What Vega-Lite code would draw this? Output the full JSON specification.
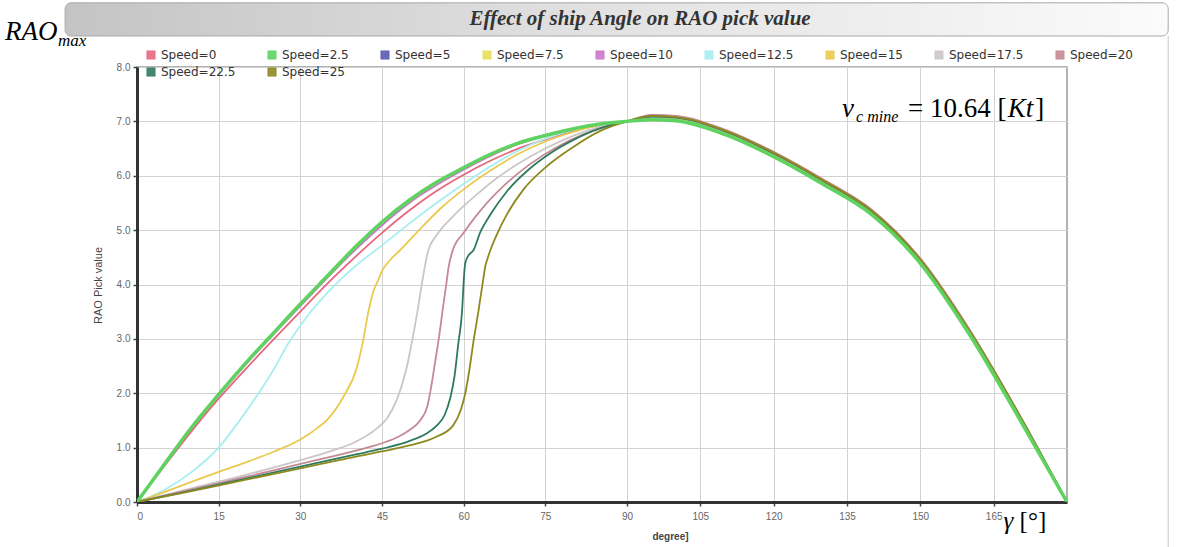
{
  "$schema": "https://vega.github.io/schema/vega-lite/v6.json",
  "width": 930,
  "height": 435,
  "autosize": "none",
  "padding": {"left": 137, "top": 67, "right": 110, "bottom": 45},
  "background": "white",
  "config": {
    "view": {"stroke": "#9a9a9a", "strokeWidth": 1.5},
    "font": "Liberation Sans"
  },
  "datasets": {
    "one": [{}],
    "curves": [
      {"s": "Speed=5", "a": 0, "v": 0}, {"s": "Speed=5", "a": 10, "v": 1.37}, {"s": "Speed=5", "a": 20, "v": 2.56}, {"s": "Speed=5", "a": 30, "v": 3.63}, {"s": "Speed=5", "a": 40, "v": 4.67}, {"s": "Speed=5", "a": 50, "v": 5.54}, {"s": "Speed=5", "a": 60, "v": 6.14}, {"s": "Speed=5", "a": 70, "v": 6.6}, {"s": "Speed=5", "a": 80, "v": 6.86}, {"s": "Speed=5", "a": 90, "v": 7.0},
      {"s": "Speed=5", "a": 95, "v": 7.04}, {"s": "Speed=5", "a": 100, "v": 7.02}, {"s": "Speed=5", "a": 110, "v": 6.77}, {"s": "Speed=5", "a": 120, "v": 6.36}, {"s": "Speed=5", "a": 130, "v": 5.86}, {"s": "Speed=5", "a": 140, "v": 5.3}, {"s": "Speed=5", "a": 150, "v": 4.4}, {"s": "Speed=5", "a": 160, "v": 3.1}, {"s": "Speed=5", "a": 170, "v": 1.58}, {"s": "Speed=5", "a": 180, "v": 0},

      {"s": "Speed=7.5", "a": 0, "v": 0}, {"s": "Speed=7.5", "a": 10, "v": 1.36}, {"s": "Speed=7.5", "a": 20, "v": 2.55}, {"s": "Speed=7.5", "a": 30, "v": 3.62}, {"s": "Speed=7.5", "a": 40, "v": 4.66}, {"s": "Speed=7.5", "a": 50, "v": 5.53}, {"s": "Speed=7.5", "a": 60, "v": 6.13}, {"s": "Speed=7.5", "a": 70, "v": 6.59}, {"s": "Speed=7.5", "a": 80, "v": 6.86}, {"s": "Speed=7.5", "a": 90, "v": 7.0},
      {"s": "Speed=7.5", "a": 95, "v": 7.05}, {"s": "Speed=7.5", "a": 100, "v": 7.03}, {"s": "Speed=7.5", "a": 110, "v": 6.78}, {"s": "Speed=7.5", "a": 120, "v": 6.37}, {"s": "Speed=7.5", "a": 130, "v": 5.87}, {"s": "Speed=7.5", "a": 140, "v": 5.31}, {"s": "Speed=7.5", "a": 150, "v": 4.41}, {"s": "Speed=7.5", "a": 160, "v": 3.1}, {"s": "Speed=7.5", "a": 170, "v": 1.58}, {"s": "Speed=7.5", "a": 180, "v": 0},

      {"s": "Speed=10", "a": 0, "v": 0}, {"s": "Speed=10", "a": 10, "v": 1.35}, {"s": "Speed=10", "a": 20, "v": 2.53}, {"s": "Speed=10", "a": 30, "v": 3.6}, {"s": "Speed=10", "a": 40, "v": 4.63}, {"s": "Speed=10", "a": 50, "v": 5.5}, {"s": "Speed=10", "a": 60, "v": 6.11}, {"s": "Speed=10", "a": 70, "v": 6.58}, {"s": "Speed=10", "a": 80, "v": 6.85}, {"s": "Speed=10", "a": 90, "v": 7.0},
      {"s": "Speed=10", "a": 95, "v": 7.05}, {"s": "Speed=10", "a": 100, "v": 7.03}, {"s": "Speed=10", "a": 110, "v": 6.78}, {"s": "Speed=10", "a": 120, "v": 6.37}, {"s": "Speed=10", "a": 130, "v": 5.87}, {"s": "Speed=10", "a": 140, "v": 5.31}, {"s": "Speed=10", "a": 150, "v": 4.41}, {"s": "Speed=10", "a": 160, "v": 3.11}, {"s": "Speed=10", "a": 170, "v": 1.59}, {"s": "Speed=10", "a": 180, "v": 0},

      {"s": "Speed=0", "a": 0, "v": 0}, {"s": "Speed=0", "a": 5, "v": 0.66}, {"s": "Speed=0", "a": 10, "v": 1.3}, {"s": "Speed=0", "a": 15, "v": 1.9}, {"s": "Speed=0", "a": 20, "v": 2.45}, {"s": "Speed=0", "a": 25, "v": 2.98}, {"s": "Speed=0", "a": 30, "v": 3.5}, {"s": "Speed=0", "a": 35, "v": 4.02}, {"s": "Speed=0", "a": 40, "v": 4.5}, {"s": "Speed=0", "a": 45, "v": 4.95}, {"s": "Speed=0", "a": 50, "v": 5.36}, {"s": "Speed=0", "a": 55, "v": 5.72}, {"s": "Speed=0", "a": 60, "v": 6.02}, {"s": "Speed=0", "a": 65, "v": 6.28}, {"s": "Speed=0", "a": 70, "v": 6.5}, {"s": "Speed=0", "a": 75, "v": 6.67}, {"s": "Speed=0", "a": 80, "v": 6.82}, {"s": "Speed=0", "a": 85, "v": 6.93}, {"s": "Speed=0", "a": 90, "v": 7.0},
      {"s": "Speed=0", "a": 95, "v": 7.05}, {"s": "Speed=0", "a": 100, "v": 7.03}, {"s": "Speed=0", "a": 110, "v": 6.78}, {"s": "Speed=0", "a": 120, "v": 6.37}, {"s": "Speed=0", "a": 130, "v": 5.87}, {"s": "Speed=0", "a": 140, "v": 5.31}, {"s": "Speed=0", "a": 150, "v": 4.41}, {"s": "Speed=0", "a": 160, "v": 3.11}, {"s": "Speed=0", "a": 170, "v": 1.59}, {"s": "Speed=0", "a": 180, "v": 0},

      {"s": "Speed=12.5", "a": 0, "v": 0}, {"s": "Speed=12.5", "a": 5, "v": 0.22}, {"s": "Speed=12.5", "a": 10, "v": 0.55}, {"s": "Speed=12.5", "a": 15, "v": 1.0}, {"s": "Speed=12.5", "a": 19, "v": 1.52}, {"s": "Speed=12.5", "a": 22, "v": 1.95}, {"s": "Speed=12.5", "a": 25, "v": 2.42}, {"s": "Speed=12.5", "a": 28, "v": 2.95}, {"s": "Speed=12.5", "a": 31, "v": 3.38}, {"s": "Speed=12.5", "a": 35, "v": 3.85}, {"s": "Speed=12.5", "a": 40, "v": 4.33}, {"s": "Speed=12.5", "a": 45, "v": 4.72}, {"s": "Speed=12.5", "a": 50, "v": 5.12}, {"s": "Speed=12.5", "a": 55, "v": 5.5}, {"s": "Speed=12.5", "a": 60, "v": 5.85}, {"s": "Speed=12.5", "a": 65, "v": 6.18}, {"s": "Speed=12.5", "a": 70, "v": 6.46}, {"s": "Speed=12.5", "a": 75, "v": 6.68}, {"s": "Speed=12.5", "a": 80, "v": 6.84}, {"s": "Speed=12.5", "a": 85, "v": 6.95}, {"s": "Speed=12.5", "a": 90, "v": 7.0},
      {"s": "Speed=12.5", "a": 95, "v": 7.06}, {"s": "Speed=12.5", "a": 100, "v": 7.04}, {"s": "Speed=12.5", "a": 110, "v": 6.79}, {"s": "Speed=12.5", "a": 120, "v": 6.38}, {"s": "Speed=12.5", "a": 130, "v": 5.88}, {"s": "Speed=12.5", "a": 140, "v": 5.32}, {"s": "Speed=12.5", "a": 150, "v": 4.42}, {"s": "Speed=12.5", "a": 160, "v": 3.12}, {"s": "Speed=12.5", "a": 170, "v": 1.6}, {"s": "Speed=12.5", "a": 180, "v": 0},

      {"s": "Speed=15", "a": 0, "v": 0}, {"s": "Speed=15", "a": 5, "v": 0.18}, {"s": "Speed=15", "a": 10, "v": 0.37}, {"s": "Speed=15", "a": 16, "v": 0.59}, {"s": "Speed=15", "a": 20, "v": 0.73}, {"s": "Speed=15", "a": 25, "v": 0.92}, {"s": "Speed=15", "a": 30, "v": 1.15}, {"s": "Speed=15", "a": 33, "v": 1.35}, {"s": "Speed=15", "a": 35, "v": 1.52}, {"s": "Speed=15", "a": 38, "v": 1.95}, {"s": "Speed=15", "a": 40.4, "v": 2.48}, {"s": "Speed=15", "a": 41.5, "v": 2.95}, {"s": "Speed=15", "a": 42.5, "v": 3.5}, {"s": "Speed=15", "a": 43.5, "v": 3.9}, {"s": "Speed=15", "a": 44.3, "v": 4.08}, {"s": "Speed=15", "a": 45, "v": 4.25}, {"s": "Speed=15", "a": 46.5, "v": 4.45}, {"s": "Speed=15", "a": 48.3, "v": 4.63}, {"s": "Speed=15", "a": 52, "v": 5.02}, {"s": "Speed=15", "a": 56, "v": 5.42}, {"s": "Speed=15", "a": 60, "v": 5.75}, {"s": "Speed=15", "a": 65, "v": 6.1}, {"s": "Speed=15", "a": 70, "v": 6.4}, {"s": "Speed=15", "a": 75, "v": 6.63}, {"s": "Speed=15", "a": 80, "v": 6.8}, {"s": "Speed=15", "a": 85, "v": 6.93}, {"s": "Speed=15", "a": 90, "v": 7.0},
      {"s": "Speed=15", "a": 95, "v": 7.07}, {"s": "Speed=15", "a": 100, "v": 7.05}, {"s": "Speed=15", "a": 110, "v": 6.8}, {"s": "Speed=15", "a": 120, "v": 6.39}, {"s": "Speed=15", "a": 130, "v": 5.89}, {"s": "Speed=15", "a": 140, "v": 5.33}, {"s": "Speed=15", "a": 150, "v": 4.43}, {"s": "Speed=15", "a": 160, "v": 3.13}, {"s": "Speed=15", "a": 170, "v": 1.61}, {"s": "Speed=15", "a": 180, "v": 0},

      {"s": "Speed=17.5", "a": 0, "v": 0}, {"s": "Speed=17.5", "a": 10, "v": 0.25}, {"s": "Speed=17.5", "a": 20, "v": 0.5}, {"s": "Speed=17.5", "a": 30, "v": 0.77}, {"s": "Speed=17.5", "a": 36, "v": 0.95}, {"s": "Speed=17.5", "a": 40, "v": 1.1}, {"s": "Speed=17.5", "a": 44, "v": 1.35}, {"s": "Speed=17.5", "a": 46, "v": 1.55}, {"s": "Speed=17.5", "a": 47.8, "v": 1.9}, {"s": "Speed=17.5", "a": 48.8, "v": 2.2}, {"s": "Speed=17.5", "a": 49.6, "v": 2.5}, {"s": "Speed=17.5", "a": 50.6, "v": 3.0}, {"s": "Speed=17.5", "a": 51.5, "v": 3.5}, {"s": "Speed=17.5", "a": 52.3, "v": 4.0}, {"s": "Speed=17.5", "a": 53.5, "v": 4.63}, {"s": "Speed=17.5", "a": 55, "v": 4.9}, {"s": "Speed=17.5", "a": 58, "v": 5.25}, {"s": "Speed=17.5", "a": 62, "v": 5.62}, {"s": "Speed=17.5", "a": 66, "v": 5.95}, {"s": "Speed=17.5", "a": 70, "v": 6.22}, {"s": "Speed=17.5", "a": 75, "v": 6.5}, {"s": "Speed=17.5", "a": 80, "v": 6.73}, {"s": "Speed=17.5", "a": 85, "v": 6.9}, {"s": "Speed=17.5", "a": 90, "v": 7.0},
      {"s": "Speed=17.5", "a": 95, "v": 7.08}, {"s": "Speed=17.5", "a": 100, "v": 7.06}, {"s": "Speed=17.5", "a": 110, "v": 6.81}, {"s": "Speed=17.5", "a": 120, "v": 6.4}, {"s": "Speed=17.5", "a": 130, "v": 5.9}, {"s": "Speed=17.5", "a": 140, "v": 5.34}, {"s": "Speed=17.5", "a": 150, "v": 4.44}, {"s": "Speed=17.5", "a": 160, "v": 3.14}, {"s": "Speed=17.5", "a": 170, "v": 1.62}, {"s": "Speed=17.5", "a": 180, "v": 0},

      {"s": "Speed=20", "a": 0, "v": 0}, {"s": "Speed=20", "a": 10, "v": 0.23}, {"s": "Speed=20", "a": 20, "v": 0.46}, {"s": "Speed=20", "a": 30, "v": 0.7}, {"s": "Speed=20", "a": 40, "v": 0.94}, {"s": "Speed=20", "a": 45, "v": 1.08}, {"s": "Speed=20", "a": 48, "v": 1.2}, {"s": "Speed=20", "a": 50, "v": 1.32}, {"s": "Speed=20", "a": 52, "v": 1.5}, {"s": "Speed=20", "a": 53.3, "v": 1.75}, {"s": "Speed=20", "a": 54, "v": 2.1}, {"s": "Speed=20", "a": 54.8, "v": 2.6}, {"s": "Speed=20", "a": 55.5, "v": 3.05}, {"s": "Speed=20", "a": 56.1, "v": 3.5}, {"s": "Speed=20", "a": 56.8, "v": 4.0}, {"s": "Speed=20", "a": 57.2, "v": 4.3}, {"s": "Speed=20", "a": 58, "v": 4.63}, {"s": "Speed=20", "a": 60, "v": 4.95}, {"s": "Speed=20", "a": 63, "v": 5.35}, {"s": "Speed=20", "a": 67, "v": 5.78}, {"s": "Speed=20", "a": 72, "v": 6.2}, {"s": "Speed=20", "a": 77, "v": 6.52}, {"s": "Speed=20", "a": 82, "v": 6.76}, {"s": "Speed=20", "a": 86, "v": 6.9}, {"s": "Speed=20", "a": 90, "v": 7.0},
      {"s": "Speed=20", "a": 95, "v": 7.12}, {"s": "Speed=20", "a": 100, "v": 7.1}, {"s": "Speed=20", "a": 110, "v": 6.85}, {"s": "Speed=20", "a": 120, "v": 6.44}, {"s": "Speed=20", "a": 130, "v": 5.94}, {"s": "Speed=20", "a": 140, "v": 5.38}, {"s": "Speed=20", "a": 150, "v": 4.48}, {"s": "Speed=20", "a": 160, "v": 3.18}, {"s": "Speed=20", "a": 170, "v": 1.65}, {"s": "Speed=20", "a": 180, "v": 0},

      {"s": "Speed=22.5", "a": 0, "v": 0}, {"s": "Speed=22.5", "a": 10, "v": 0.21}, {"s": "Speed=22.5", "a": 20, "v": 0.43}, {"s": "Speed=22.5", "a": 30, "v": 0.65}, {"s": "Speed=22.5", "a": 40, "v": 0.87}, {"s": "Speed=22.5", "a": 45, "v": 0.98}, {"s": "Speed=22.5", "a": 50, "v": 1.12}, {"s": "Speed=22.5", "a": 53, "v": 1.25}, {"s": "Speed=22.5", "a": 55, "v": 1.4}, {"s": "Speed=22.5", "a": 56.5, "v": 1.6}, {"s": "Speed=22.5", "a": 57.5, "v": 1.9}, {"s": "Speed=22.5", "a": 58.3, "v": 2.3}, {"s": "Speed=22.5", "a": 59, "v": 2.9}, {"s": "Speed=22.5", "a": 59.7, "v": 3.5}, {"s": "Speed=22.5", "a": 60.1, "v": 4.2}, {"s": "Speed=22.5", "a": 60.3, "v": 4.4}, {"s": "Speed=22.5", "a": 61, "v": 4.55}, {"s": "Speed=22.5", "a": 61.8, "v": 4.63}, {"s": "Speed=22.5", "a": 63, "v": 4.95}, {"s": "Speed=22.5", "a": 65, "v": 5.3}, {"s": "Speed=22.5", "a": 68, "v": 5.72}, {"s": "Speed=22.5", "a": 72, "v": 6.12}, {"s": "Speed=22.5", "a": 76, "v": 6.42}, {"s": "Speed=22.5", "a": 80, "v": 6.65}, {"s": "Speed=22.5", "a": 85, "v": 6.87}, {"s": "Speed=22.5", "a": 90, "v": 7.0},
      {"s": "Speed=22.5", "a": 95, "v": 7.09}, {"s": "Speed=22.5", "a": 100, "v": 7.07}, {"s": "Speed=22.5", "a": 110, "v": 6.82}, {"s": "Speed=22.5", "a": 120, "v": 6.41}, {"s": "Speed=22.5", "a": 130, "v": 5.91}, {"s": "Speed=22.5", "a": 140, "v": 5.35}, {"s": "Speed=22.5", "a": 150, "v": 4.45}, {"s": "Speed=22.5", "a": 160, "v": 3.15}, {"s": "Speed=22.5", "a": 170, "v": 1.63}, {"s": "Speed=22.5", "a": 180, "v": 0},

      {"s": "Speed=25", "a": 0, "v": 0}, {"s": "Speed=25", "a": 10, "v": 0.2}, {"s": "Speed=25", "a": 20, "v": 0.41}, {"s": "Speed=25", "a": 30, "v": 0.62}, {"s": "Speed=25", "a": 40, "v": 0.83}, {"s": "Speed=25", "a": 45, "v": 0.93}, {"s": "Speed=25", "a": 50, "v": 1.04}, {"s": "Speed=25", "a": 55, "v": 1.2}, {"s": "Speed=25", "a": 58, "v": 1.4}, {"s": "Speed=25", "a": 59.5, "v": 1.7}, {"s": "Speed=25", "a": 60.3, "v": 2.0}, {"s": "Speed=25", "a": 61, "v": 2.4}, {"s": "Speed=25", "a": 61.8, "v": 2.95}, {"s": "Speed=25", "a": 62.7, "v": 3.5}, {"s": "Speed=25", "a": 63.6, "v": 4.1}, {"s": "Speed=25", "a": 64, "v": 4.35}, {"s": "Speed=25", "a": 64.3, "v": 4.45}, {"s": "Speed=25", "a": 64.9, "v": 4.63}, {"s": "Speed=25", "a": 66, "v": 4.9}, {"s": "Speed=25", "a": 68, "v": 5.3}, {"s": "Speed=25", "a": 71, "v": 5.75}, {"s": "Speed=25", "a": 75, "v": 6.15}, {"s": "Speed=25", "a": 80, "v": 6.52}, {"s": "Speed=25", "a": 85, "v": 6.82}, {"s": "Speed=25", "a": 90, "v": 7.0},
      {"s": "Speed=25", "a": 95, "v": 7.1}, {"s": "Speed=25", "a": 100, "v": 7.08}, {"s": "Speed=25", "a": 110, "v": 6.83}, {"s": "Speed=25", "a": 120, "v": 6.42}, {"s": "Speed=25", "a": 130, "v": 5.92}, {"s": "Speed=25", "a": 140, "v": 5.36}, {"s": "Speed=25", "a": 150, "v": 4.46}, {"s": "Speed=25", "a": 160, "v": 3.16}, {"s": "Speed=25", "a": 170, "v": 1.64}, {"s": "Speed=25", "a": 180, "v": 0},

      {"s": "Speed=2.5", "a": 0, "v": 0}, {"s": "Speed=2.5", "a": 5, "v": 0.69}, {"s": "Speed=2.5", "a": 10, "v": 1.37}, {"s": "Speed=2.5", "a": 15, "v": 1.98}, {"s": "Speed=2.5", "a": 20, "v": 2.56}, {"s": "Speed=2.5", "a": 25, "v": 3.1}, {"s": "Speed=2.5", "a": 30, "v": 3.64}, {"s": "Speed=2.5", "a": 35, "v": 4.16}, {"s": "Speed=2.5", "a": 40, "v": 4.68}, {"s": "Speed=2.5", "a": 45, "v": 5.15}, {"s": "Speed=2.5", "a": 50, "v": 5.55}, {"s": "Speed=2.5", "a": 55, "v": 5.88}, {"s": "Speed=2.5", "a": 60, "v": 6.15}, {"s": "Speed=2.5", "a": 65, "v": 6.4}, {"s": "Speed=2.5", "a": 70, "v": 6.6}, {"s": "Speed=2.5", "a": 75, "v": 6.74}, {"s": "Speed=2.5", "a": 80, "v": 6.86}, {"s": "Speed=2.5", "a": 85, "v": 6.95}, {"s": "Speed=2.5", "a": 90, "v": 7.0},
      {"s": "Speed=2.5", "a": 95, "v": 7.03}, {"s": "Speed=2.5", "a": 100, "v": 7.01}, {"s": "Speed=2.5", "a": 110, "v": 6.76}, {"s": "Speed=2.5", "a": 120, "v": 6.35}, {"s": "Speed=2.5", "a": 130, "v": 5.85}, {"s": "Speed=2.5", "a": 140, "v": 5.29}, {"s": "Speed=2.5", "a": 150, "v": 4.39}, {"s": "Speed=2.5", "a": 160, "v": 3.09}, {"s": "Speed=2.5", "a": 170, "v": 1.57}, {"s": "Speed=2.5", "a": 180, "v": 0}
    ]
  },
  "layer": [
    {
      "data": {"name": "one"},
      "mark": {"type": "rule", "clip": false, "color": "#c8c8c8", "strokeWidth": 1},
      "encoding": {"x": {"datum": 200.7}, "y": {"datum": 8.57}, "y2": {"datum": -0.83}}
    },
    {
      "data": {"name": "one"},
      "mark": {"type": "rect", "clip": false, "cornerRadius": 6, "stroke": "#a8a8a8", "strokeWidth": 1,
        "fill": {"x1": 0, "y1": 0, "x2": 1, "y2": 0, "gradient": "linear",
          "stops": [{"offset": 0, "color": "#c4c4c4"}, {"offset": 0.45, "color": "#e0e0e0"}, {"offset": 1, "color": "#fbfbfb"}]}},
      "encoding": {
        "x": {"datum": -13.2}, "x2": {"datum": 200.7},
        "y": {"datum": 9.18}, "y2": {"datum": 8.57}
      }
    },
    {
      "data": {"name": "one"},
      "mark": {"type": "text", "clip": false, "text": "Effect of ship Angle on RAO pick value", "font": "Liberation Serif", "fontStyle": "italic", "fontWeight": "bold", "fontSize": 21, "color": "#333333", "align": "center", "baseline": "middle"},
      "encoding": {"x": {"datum": 92.66}, "y": {"datum": 8.88}}
    },
    {
      "data": {"name": "curves"},
      "transform": [{"filter": "datum.s !== 'Speed=2.5'"}],
      "mark": {"type": "line", "strokeWidth": 1.8, "interpolate": "monotone", "clip": true},
      "encoding": {
        "x": {
          "field": "a", "type": "quantitative",
          "scale": {"type": "linear", "domain": [0, 90, 180], "range": [0, 490, 930], "nice": false, "zero": false},
          "axis": {
            "values": [0, 15, 30, 45, 60, 75, 90, 105, 120, 135, 150, 165],
            "format": "d", "title": null,
            "labelFont": "Liberation Sans", "labelFontSize": 10, "labelColor": "#666666", "labelPadding": 5,
            "tickColor": "#444444", "tickSize": 4, "tickWidth": 1.5,
            "domainColor": "#333333", "domainWidth": 3,
            "grid": true, "gridColor": "#d2d2d2", "gridWidth": 1
          }
        },
        "y": {
          "field": "v", "type": "quantitative",
          "scale": {"domain": [0, 8], "nice": false, "zero": true},
          "axis": {
            "values": [0, 0.5, 1, 1.5, 2, 2.5, 3, 3.5, 4, 4.5, 5, 5.5, 6, 6.5, 7, 7.5, 8],
            "format": ".1f",
            "title": "RAO Pick value", "titleFont": "Liberation Sans", "titleFontSize": 11, "titleFontWeight": "normal", "titleColor": "#444444",
            "titleX": -39, "titleY": 218, "titleAngle": 270, "titleAlign": "center", "titleBaseline": "middle",
            "labelFont": "Liberation Sans", "labelFontSize": 10, "labelColor": "#666666", "labelPadding": 3,
            "tickColor": "#444444", "tickSize": 4, "tickWidth": 1.5,
            "domainColor": "#333333", "domainWidth": 3,
            "grid": true, "gridColor": "#d2d2d2", "gridWidth": 1
          }
        },
        "color": {
          "field": "s", "type": "nominal",
          "scale": {
            "domain": ["Speed=0", "Speed=2.5", "Speed=5", "Speed=7.5", "Speed=10", "Speed=12.5", "Speed=15", "Speed=17.5", "Speed=20", "Speed=22.5", "Speed=25"],
            "range": ["#e8677f", "#5fd35f", "#5a5ab4", "#e8e05a", "#cc77cc", "#a6eef0", "#ebc94e", "#cdc5c8", "#c48a94", "#2f7a5e", "#8c8a1e"]
          },
          "legend": {
            "title": null, "orient": "none", "legendX": 8, "legendY": -18,
            "direction": "horizontal", "columns": 9, "columnPadding": 30, "rowPadding": 5,
            "symbolType": "square", "symbolSize": 70,
            "labelFont": "DejaVu Sans", "labelFontSize": 12, "labelColor": "#333333", "labelOffset": 4,
            "encode": {
              "symbols": {"update": {
                "fill": {"scale": "color", "field": "value"},
                "fillOpacity": {"value": 0.9},
                "stroke": {"value": "#555555"},
                "strokeWidth": {"value": 0.6}
              }}
            }
          }
        }
      }
    },
    {
      "data": {"name": "curves"},
      "transform": [{"filter": "datum.s === 'Speed=2.5'"}],
      "mark": {"type": "line", "strokeWidth": 3.5, "interpolate": "monotone", "clip": true},
      "encoding": {
        "x": {"field": "a", "type": "quantitative"},
        "y": {"field": "v", "type": "quantitative"},
        "color": {"field": "s", "type": "nominal"}
      }
    },
    {
      "data": {"name": "one"},
      "mark": {"type": "text", "clip": false, "text": "RAO", "font": "Liberation Serif", "fontStyle": "italic", "fontSize": 27, "color": "#000000", "align": "left", "baseline": "alphabetic"},
      "encoding": {"x": {"datum": -24.25}, "y": {"datum": 8.497}}
    },
    {
      "data": {"name": "one"},
      "mark": {"type": "text", "clip": false, "text": "max", "font": "Liberation Serif", "fontStyle": "italic", "fontSize": 17, "color": "#000000", "align": "left", "baseline": "alphabetic"},
      "encoding": {"x": {"datum": -14.5}, "y": {"datum": 8.386}}
    },
    {
      "data": {"name": "one"},
      "mark": {"type": "text", "clip": false, "text": "v", "font": "Liberation Serif", "fontStyle": "italic", "fontSize": 27, "color": "#000000", "align": "left", "baseline": "alphabetic"},
      "encoding": {"x": {"datum": 133.98}, "y": {"datum": 7.08}}
    },
    {
      "data": {"name": "one"},
      "mark": {"type": "text", "clip": false, "text": "c mine", "font": "Liberation Serif", "fontStyle": "italic", "fontSize": 16, "color": "#000000", "align": "left", "baseline": "alphabetic"},
      "encoding": {"x": {"datum": 136.85}, "y": {"datum": 6.99}}
    },
    {
      "data": {"name": "one"},
      "mark": {"type": "text", "clip": false, "text": "= 10.64 [", "font": "Liberation Serif", "fontSize": 27, "color": "#000000", "align": "left", "baseline": "alphabetic"},
      "encoding": {"x": {"datum": 147.5}, "y": {"datum": 7.08}}
    },
    {
      "data": {"name": "one"},
      "mark": {"type": "text", "clip": false, "text": "Kt", "font": "Liberation Serif", "fontStyle": "italic", "fontSize": 27, "color": "#000000", "align": "left", "baseline": "alphabetic"},
      "encoding": {"x": {"datum": 167.9}, "y": {"datum": 7.08}}
    },
    {
      "data": {"name": "one"},
      "mark": {"type": "text", "clip": false, "text": "]", "font": "Liberation Serif", "fontSize": 27, "color": "#000000", "align": "left", "baseline": "alphabetic"},
      "encoding": {"x": {"datum": 173.5}, "y": {"datum": 7.08}}
    },
    {
      "data": {"name": "one"},
      "mark": {"type": "text", "clip": false, "text": "γ", "font": "Liberation Serif", "fontStyle": "italic", "fontSize": 25, "color": "#000000", "align": "left", "baseline": "alphabetic"},
      "encoding": {"x": {"datum": 167.0}, "y": {"datum": -0.5}}
    },
    {
      "data": {"name": "one"},
      "mark": {"type": "text", "clip": false, "text": "[°]", "font": "Liberation Serif", "fontSize": 25, "color": "#000000", "align": "left", "baseline": "alphabetic"},
      "encoding": {"x": {"datum": 170.3}, "y": {"datum": -0.5}}
    },
    {
      "data": {"name": "one"},
      "mark": {"type": "text", "clip": false, "text": "degree]", "font": "Liberation Sans", "fontWeight": "bold", "fontSize": 10, "color": "#444444", "align": "left", "baseline": "middle"},
      "encoding": {"x": {"datum": 95.2}, "y": {"datum": -0.644}}
    }
  ]
}
